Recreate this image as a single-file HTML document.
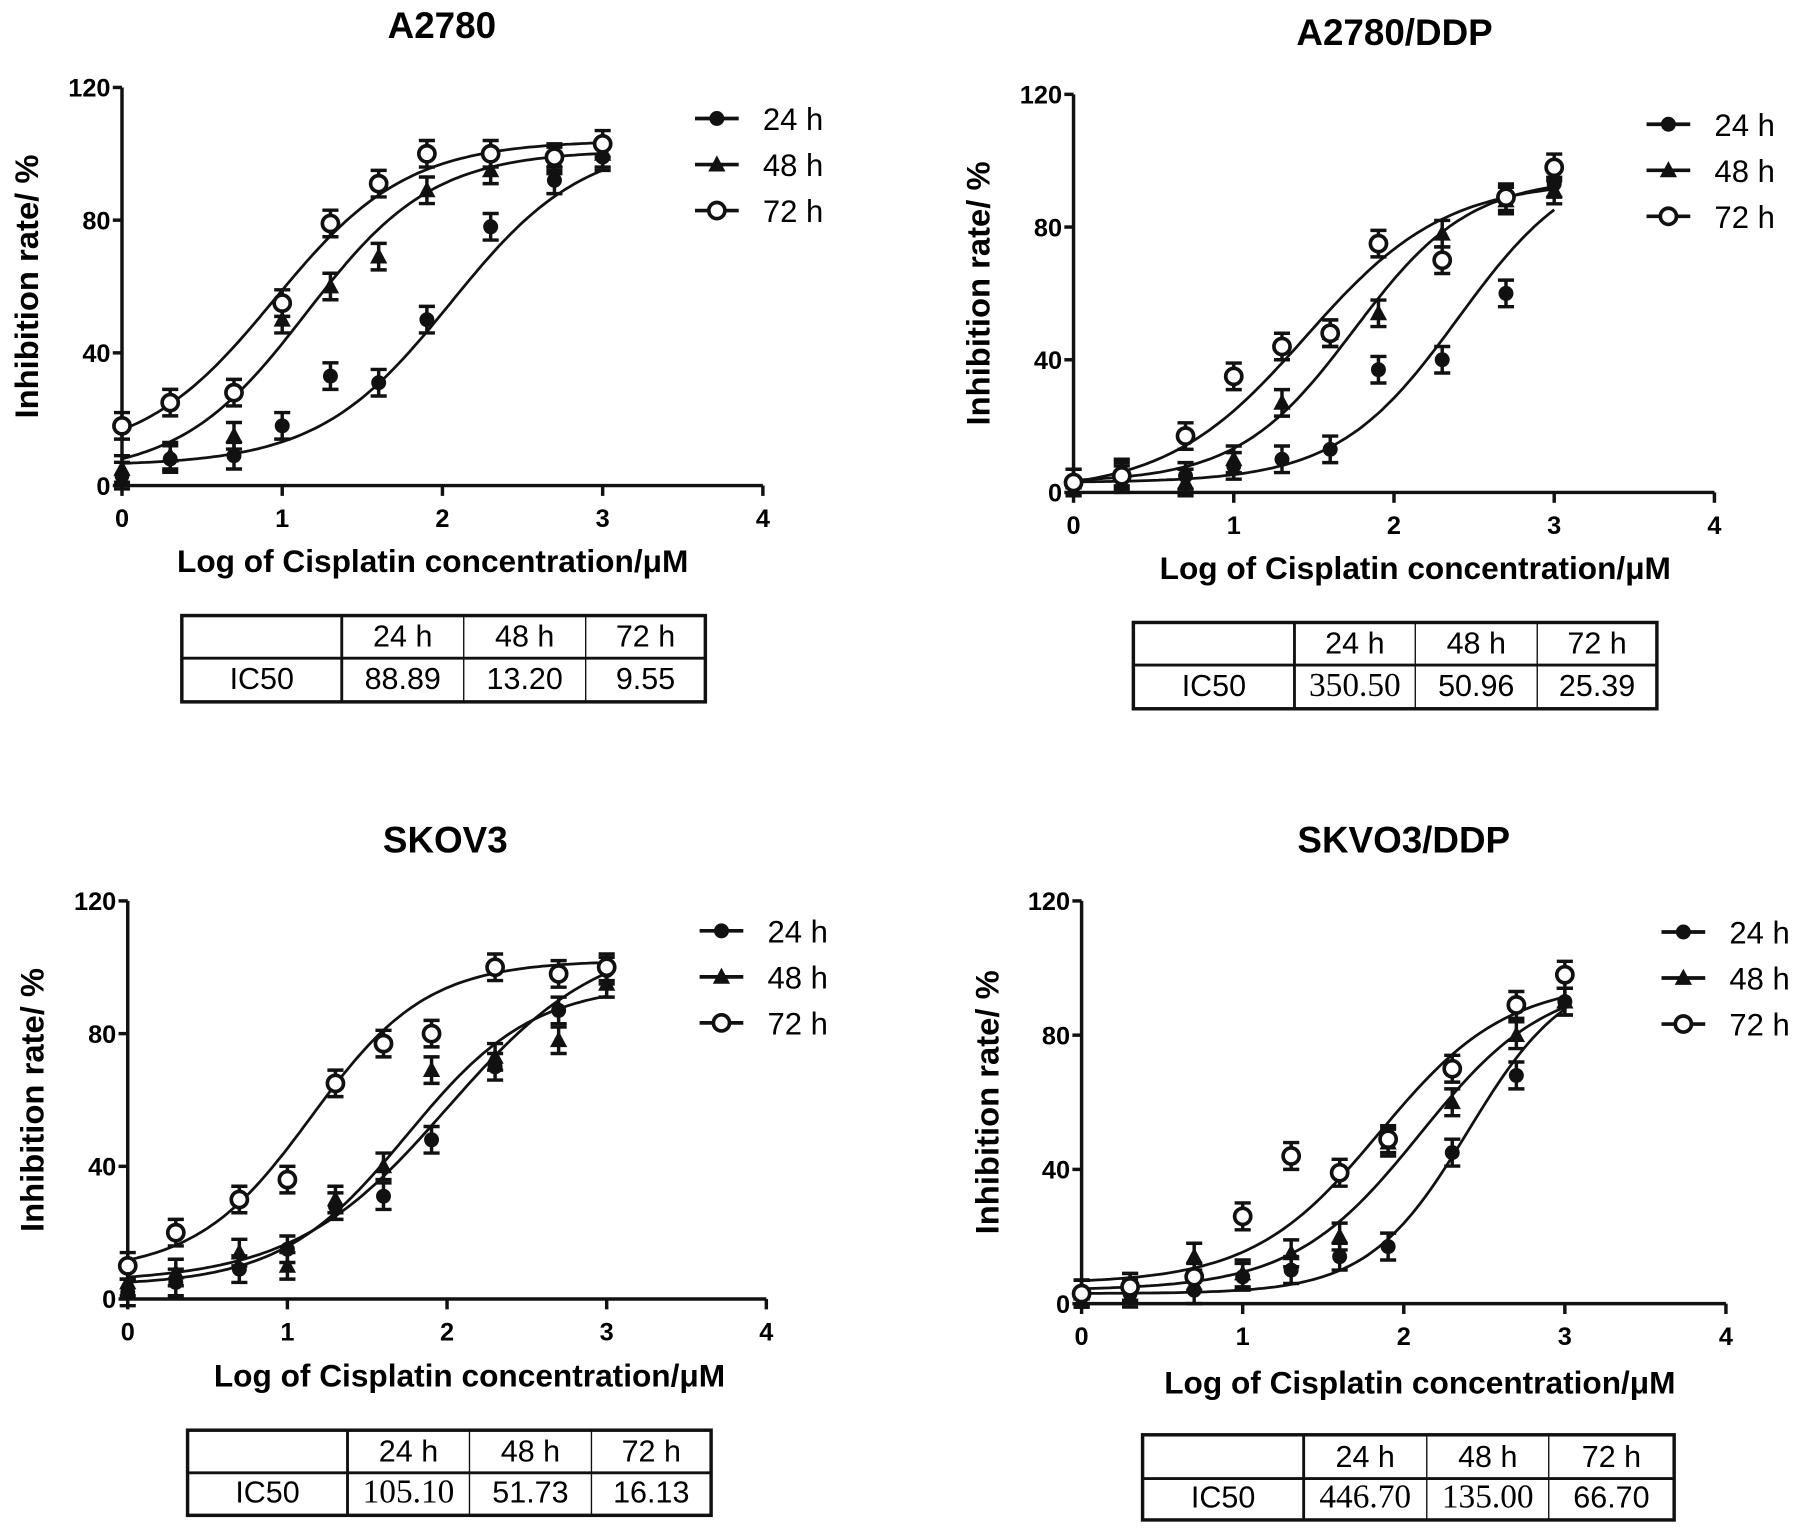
<!DOCTYPE html>
<html><head><meta charset="utf-8"><style>
html,body{margin:0;padding:0;background:#fff;}
svg{display:block;font-family:"Liberation Sans",Arial,sans-serif;}
</style></head><body>
<svg id="fig" width="1795" height="1528" viewBox="0 0 1560 1328" xmlns="http://www.w3.org/2000/svg"></svg>
<script>
const xVals = [0, 0.301, 0.699, 1, 1.301, 1.602, 1.903, 2.301, 2.699, 3];
const seriesNames = ["24 h", "48 h", "72 h"];
const xTicks = [0, 1, 2, 3, 4];
const yTicks = [0, 40, 80, 120];
// A2780
const a2780_24 = [3, 8, 9, 18, 33, 31, 50, 78, 92, 99];
const a2780_48 = [5, 9, 15, 50, 60, 69, 89, 95, 98, 100];
const a2780_72 = [18, 25, 28, 55, 79, 91, 100, 100, 99, 103];
const a2780_fit24 = [6, 104, 2.05, 1.05];
const a2780_fit48 = [3, 101, 1.15, 1.1];
const a2780_fit72 = [8, 104, 0.95, 1.05];
const a2780_ic50 = ["88.89", "13.20", "9.55"];
// A2780/DDP
const ddp_24 = [3, 4, 5, 8, 10, 13, 37, 40, 60, 93];
const ddp_48 = [3, 6, 3, 10, 27, 48, 54, 78, 88, 91];
const ddp_72 = [3, 5, 17, 35, 44, 48, 75, 70, 89, 98];
const ddp_fit24 = [3, 102, 2.4, 1.15];
const ddp_fit48 = [3, 95, 1.75, 1.2];
const ddp_fit72 = [0, 94, 1.45, 1.0];
const ddp_ic50 = ["350.50", "50.96", "25.39"];
// SKOV3
const skov_24 = [2, 5, 9, 15, 28, 31, 48, 70, 87, 99];
const skov_48 = [5, 8, 14, 10, 30, 40, 69, 73, 78, 95];
const skov_72 = [10, 20, 30, 36, 65, 77, 80, 100, 98, 100];
const skov_fit24 = [5, 110, 2.0, 0.9];
const skov_fit48 = [4, 95, 1.75, 1.1];
const skov_fit72 = [8, 102, 1.15, 1.2];
const skov_ic50 = ["105.10", "51.73", "16.13"];
// SKVO3/DDP
const skvo_24 = [3, 3, 4, 8, 10, 14, 17, 45, 68, 90];
const skvo_48 = [3, 5, 14, 9, 15, 20, 48, 60, 80, 90];
const skvo_72 = [3, 5, 8, 26, 44, 39, 49, 70, 89, 98];
const skvo_fit24 = [3, 100, 2.4, 1.4];
const skvo_fit48 = [4, 97, 2.1, 1.1];
const skvo_fit72 = [6, 96, 1.85, 1.1];
const skvo_ic50 = ["446.70", "135.00", "66.70"];

const NS = "http://www.w3.org/2000/svg";
const svg = document.getElementById("fig");
function mk(tag, attrs, parent, text){
  const e = document.createElementNS(NS, tag);
  for (const k in attrs) e.setAttribute(k, attrs[k]);
  if (text !== undefined) e.textContent = text;
  (parent || svg).appendChild(e);
  return e;
}
const panels = [
  {name:"a2780", title:"A2780", x0:106, x4:663, y0:422, y120:76, tx:384, ty:33, ylx:33, xlx:376, xly:497,
   lgx:623, lgy:103, tab:[158,535,613,610,297,403,509,572], data:[a2780_24,a2780_48,a2780_72], fits:[a2780_fit24,a2780_fit48,a2780_fit72], ic:a2780_ic50, serif:false},
  {name:"a2780-ddp", title:"A2780/DDP", x0:933, x4:1490, y0:428, y120:82, tx:1212, ty:39, ylx:860, xlx:1230, xly:503,
   lgx:1450, lgy:108, tab:[985,541,1440,616,1125,1230,1336,578], data:[ddp_24,ddp_48,ddp_72], fits:[ddp_fit24,ddp_fit48,ddp_fit72], ic:ddp_ic50, serif:true},
  {name:"skov3", title:"SKOV3", x0:111, x4:666, y0:1129, y120:783, tx:387, ty:741, ylx:38, xlx:408, xly:1205,
   lgx:627, lgy:809, tab:[163,1243,618,1317,302,408,514,1280], data:[skov_24,skov_48,skov_72], fits:[skov_fit24,skov_fit48,skov_fit72], ic:skov_ic50, serif:true},
  {name:"skvo3-ddp", title:"SKVO3/DDP", x0:940, x4:1500, y0:1133, y120:783, tx:1220, ty:741, ylx:868, xlx:1234, xly:1211,
   lgx:1463, lgy:810, tab:[993,1247,1455,1321,1133,1240,1346,1285], data:[skvo_24,skvo_48,skvo_72], fits:[skvo_fit24,skvo_fit48,skvo_fit72], ic:skvo_ic50, serif:true}
];
function marker(g, kind, cx, cy){
  let m;
  if (kind === 0) m = mk("circle", {cx:cx, cy:cy, r:6.5, fill:"#111"}, g);
  else if (kind === 1) m = mk("polygon", {points:`${cx},${cy-8} ${cx+7.5},${cy+6} ${cx-7.5},${cy+6}`, fill:"#111"}, g);
  else m = mk("circle", {cx:cx, cy:cy, r:7, fill:"#fff", stroke:"#111", "stroke-width":3.2}, g);
  return m;
}
panels.forEach(p => {
  const g = mk("g", {});
  
  
  const X = v => p.x0 + (p.x4 - p.x0) * v / 4;
  const Y = v => p.y0 - (p.y0 - p.y120) * v / 120;
  const t = mk("text", {x:p.tx, y:p.ty, "text-anchor":"middle", "font-size":32, "font-weight":"bold"}, g, p.title);
  
  
  const ax = mk("path", {d:`M${p.x0},${Y(120)} V${p.y0} H${p.x4}`, fill:"none", stroke:"#111", "stroke-width":3}, g);
  
  
  yTicks.forEach(v => {
    mk("line", {x1:p.x0-8, x2:p.x0, y1:Y(v), y2:Y(v), stroke:"#111", "stroke-width":3}, g);
    const l = mk("text", {x:p.x0-10, y:Y(v)+8, "text-anchor":"end", "font-size":22, "font-weight":"bold"}, g, v);
    
    
  });
  xTicks.forEach(v => {
    mk("line", {x1:X(v), x2:X(v), y1:p.y0, y2:p.y0+9, stroke:"#111", "stroke-width":3}, g);
    const l = mk("text", {x:X(v), y:p.y0+36, "text-anchor":"middle", "font-size":22, "font-weight":"bold"}, g, v);
    
    
  });
  const xl = mk("text", {x:p.xlx, y:p.xly, "text-anchor":"middle", "font-size":27.5, "font-weight":"bold"}, g, "Log of Cisplatin concentration/μM");
  
  
  const ymid = (p.y0 + p.y120)/2;
  const yl = mk("text", {x:p.ylx, y:ymid, "text-anchor":"middle", "font-size":28.5, "font-weight":"bold", transform:`rotate(-90 ${p.ylx} ${ymid})`}, g, "Inhibition rate/ %");
  
  
  p.fits.forEach((f, si) => {
    let d = "";
    for (let i = 0; i <= 120; i++) {
      const xv = 3 * i / 120;
      const yv = f[0] + (f[1] - f[0]) / (1 + Math.pow(10, (f[2] - xv) * f[3]));
      d += (i ? "L" : "M") + X(xv).toFixed(1) + "," + Y(yv).toFixed(1);
    }
    const c = mk("path", {d:d, fill:"none", stroke:"#111", "stroke-width":2.4}, g);
    
    
  });
  p.data.forEach((arr, si) => {
    const sg = mk("g", {}, g);
    
    
    arr.forEach((v, i) => {
      const cx = X(xVals[i]), cy = Y(v), e = 4;
      mk("path", {d:`M${cx},${Y(v-e)} V${Y(v+e)} M${cx-7},${Y(v+e)} H${cx+7} M${cx-7},${Y(v-e)} H${cx+7}`, stroke:"#111", "stroke-width":3, fill:"none"}, sg);
      const m = marker(sg, si, cx, cy);
      
      
    });
  });
  seriesNames.forEach((s, si) => {
    const ly = p.lgy + si * 40;
    const lg = mk("g", {}, g);
    
    
    mk("line", {x1:p.lgx-19, x2:p.lgx+19, y1:ly, y2:ly, stroke:"#111", "stroke-width":3.2}, lg);
    marker(lg, si, p.lgx, ly);
    mk("text", {x:p.lgx+40, y:ly+10, "font-size":27}, lg, s);
  });
  const [tx1, ty1, tx2, ty2, c1, c2, c3, ym] = p.tab;
  const tg = mk("g", {}, g);
  
  
  mk("rect", {x:tx1, y:ty1, width:tx2-tx1, height:ty2-ty1, fill:"none", stroke:"#111", "stroke-width":3}, tg);
  mk("line", {x1:tx1, x2:tx2, y1:ym, y2:ym, stroke:"#111", "stroke-width":2.5}, tg);
  [c1, c2, c3].forEach((c, i) => mk("line", {x1:c, x2:c, y1:ty1, y2:ty2, stroke:"#111", "stroke-width": i===0 ? 2.5 : 1.2}, tg));
  const cx = [(tx1+c1)/2, (c1+c2)/2, (c2+c3)/2, (c3+tx2)/2];
  seriesNames.forEach((s, i) => mk("text", {x:cx[i+1], y:ym-10, "text-anchor":"middle", "font-size":26.5}, tg, s));
  mk("text", {x:cx[0], y:ty2-11, "text-anchor":"middle", "font-size":26.5}, tg, "IC50");
  p.ic.forEach((v, i) => {
    const serifCell = p.serif && (i === 0 || (p.name === "skvo3-ddp" && i === 1));
    mk("text", {x:cx[i+1], y:ty2-11, "text-anchor":"middle", "font-size": serifCell ? 29 : 26.5,
      "font-family": serifCell ? '"Liberation Serif", serif' : '"Liberation Sans", sans-serif'}, tg, v);
  });
});
</script>
</body></html>
